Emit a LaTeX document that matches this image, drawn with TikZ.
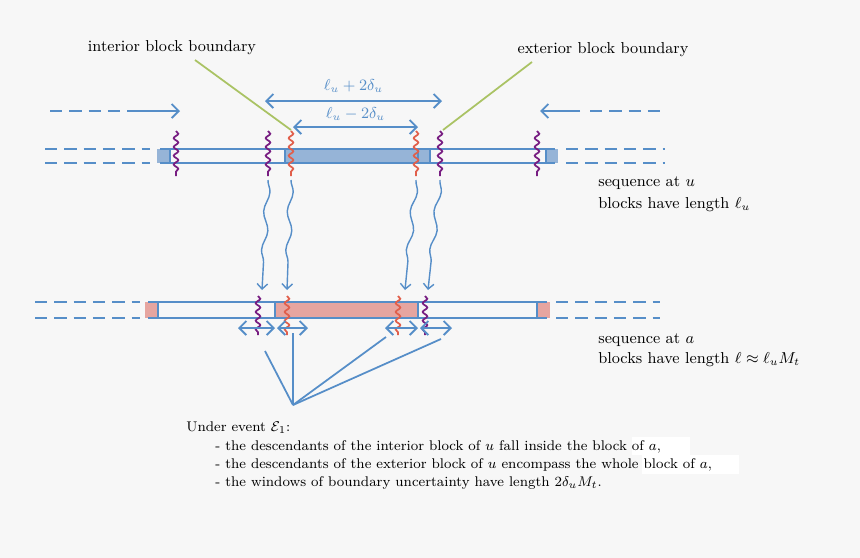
\documentclass[tikz,border=0pt]{standalone}
\usepackage{amsmath}
\usetikzlibrary{decorations.pathmorphing,arrows.meta}
\definecolor{seqblue}{RGB}{86,142,200}
\definecolor{bluefill}{RGB}{150,180,215}
\definecolor{redfill}{RGB}{230,165,160}
\definecolor{bdred}{RGB}{225,95,75}
\definecolor{bdpurple}{RGB}{120,30,130}
\definecolor{pointer}{RGB}{170,195,100}
\definecolor{bg}{RGB}{247,247,247}
\tikzset{
  strand/.style={seqblue, line width=1.3pt},
  dashstrand/.style={seqblue, line width=1.3pt, dash pattern=on 7pt off 4pt},
  arr/.style={seqblue, line width=1.1pt, -{Straight Barb[length=4pt]}},
  darr/.style={seqblue, line width=1.1pt, {Straight Barb[length=4pt]}-{Straight Barb[length=4pt]}},
  wavy/.style={line width=1pt, decorate, decoration={snake, amplitude=1.3pt, segment length=5pt}},
  descent/.style={seqblue, line width=0.8pt, decorate, decoration={snake, amplitude=1.5pt, segment length=22pt, post length=6pt}, -{Straight Barb[length=3pt]}},
  label/.style={font=\small, anchor=west, inner sep=0pt},
}
\begin{document}
\begin{tikzpicture}[x=0.02cm, y=-0.02cm]
\fill[bg] (0,0) rectangle (860,558);
% pointers to the boundaries
\node[font=\small] (intlab) at (172,48) {interior block boundary};
\node[font=\small] (extlab) at (603,50) {exterior block boundary};
\coordinate (intend) at (291,130);
\coordinate (extend) at (443,130);
\draw[pointer, line width=1pt] (195,60) -- (intend);
\draw[pointer, line width=1pt] (532,62) -- (extend);
% lengths
\coordinate (outl) at (265,101); \coordinate (outr) at (442,101);
\coordinate (inl) at (293,127); \coordinate (inr) at (418,127);
\draw[darr] (outl) -- node[above=1pt, font=\small] {$\ell_u+2\delta_u$} (outr);
\draw[darr] (inl) -- node[above=0pt, font=\small] {$\ell_u-2\delta_u$} (inr);
% incoming flow
\draw[dashstrand] (50,111) -- (140,111);
\draw[arr] (140,111) -- (180,111);
\draw[dashstrand] (590,111) -- (665,111);
\draw[arr] (580,111) -- (540,111);
% sequence at u
\fill[bluefill] (157,149) rectangle (171,163);
\fill[bluefill] (545,149) rectangle (558,163);
\fill[bluefill] (285,149) rectangle (430,163);
\foreach \y in {149,163} {
  \draw[dashstrand] (45,\y) -- (150,\y);
  \draw[dashstrand] (566,\y) -- (665,\y);
  \draw[strand] (160,\y) -- (555,\y);
}
\foreach \x in {170,285,418,430,546} \draw[strand] (\x,149) -- (\x,163);
\foreach \x in {176,268,440,537} \draw[wavy, bdpurple] (\x,131) -- (\x,176);
\foreach \x in {291,416} \draw[wavy, bdred] (\x,131) -- (\x,176);
\node[label] (uname) at (598,183) {sequence at $u$};
\node[label] (ulen) at (598,205) {blocks have length $\ell_u$};
% sequence at a
\fill[redfill] (145,302) rectangle (158,318);
\fill[redfill] (537,302) rectangle (550,318);
\fill[redfill] (275,302) rectangle (418,318);
\foreach \y in {302,318} {
  \draw[dashstrand] (35,\y) -- (140,\y);
  \draw[dashstrand] (556,\y) -- (660,\y);
  \draw[strand] (148,\y) -- (547,\y);
}
\foreach \x in {158,275,418,537} \draw[strand] (\x,302) -- (\x,318);
\foreach \x in {258,425} \draw[wavy, bdpurple] (\x,296) -- (\x,335);
\foreach \x in {287,398} \draw[wavy, bdred] (\x,296) -- (\x,335);
\node[label] (aname) at (598,340) {sequence at $a$};
\node[label] (alen) at (598,360) {blocks have length $\ell\approx\ell_u M_t$};
% descendants
\draw[descent] (268,180) -- (262,290);
\draw[descent] (291,180) -- (287,290);
\draw[descent] (416,180) -- (405,290);
\draw[descent] (440,180) -- (428,290);
% uncertainty windows
\draw[darr] (238,328) -- (275,328);
\draw[darr] (277,328) -- (308,328);
\draw[darr] (385,328) -- (418,328);
\draw[darr] (420,328) -- (452,328);
\coordinate (focus) at (293,405);
\draw[seqblue, line width=1pt] (265,351) -- (focus);
\draw[seqblue, line width=1pt] (293,333) -- (focus);
\draw[seqblue, line width=1pt] (386,337) -- (focus);
\draw[seqblue, line width=1pt] (441,339) -- (focus);
% caption
\fill[white] (632,437) rectangle (690,455);
\fill[white] (642,455) rectangle (739,474);
\node[label, font=\footnotesize] (under) at (186,428) {Under event $\mathcal{E}_1$:};
\node[label, font=\footnotesize] (item1) at (215,447) {- the descendants of the interior block of $u$ fall inside the block of $a$,};
\node[label, font=\footnotesize] (item2) at (215,465) {- the descendants of the exterior block of $u$ encompass the whole block of $a$,};
\node[label, font=\footnotesize] (item3) at (215,483) {- the windows of boundary uncertainty have length $2\delta_u M_t$.};
\end{tikzpicture}
\end{document}
